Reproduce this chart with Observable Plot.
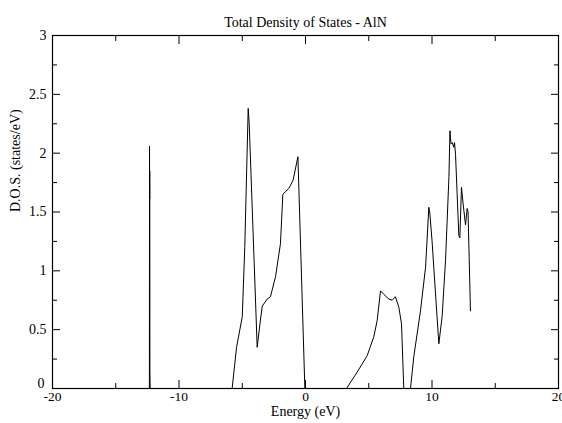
<!DOCTYPE html>
<html>
<head>
<meta charset="utf-8">
<script src="https://cdn.jsdelivr.net/npm/d3@7"></script>
<script src="https://cdn.jsdelivr.net/npm/@observablehq/plot@0.6"></script>
<style>
  html, body { margin: 0; padding: 0; background: #fff; }
  #chart svg { display: block; }
  #chart svg text { font-family: "Liberation Serif", "DejaVu Serif", serif; }
</style>
</head>
<body>
<div id="chart"></div>
<script>
const title = "Total Density of States - AlN";
const xLabel = "Energy (eV)";
const yLabel = "D.O.S. (states/eV)";

const energy = [
  -12.34, -12.33, -12.32, -12.315, -12.31, -12.30, -12.28,
  -5.80, -5.45, -5.00, -4.80, -4.53, -4.45, -3.82, -3.60, -3.42, -3.03, -2.77, -2.37, -1.98,
  -1.79, -1.32, -0.98, -0.60, -0.05,
  3.24, 4.09, 4.88, 5.40, 5.67, 5.93, 6.19, 6.59, 6.85, 7.11, 7.38, 7.59, 7.77,
  8.30, 8.56, 9.09, 9.49, 9.75, 9.82, 10.00, 10.54, 10.80, 11.07, 11.34, 11.42, 11.50,
  11.60, 11.72, 11.78, 11.86, 12.12, 12.20, 12.33, 12.46, 12.65, 12.78, 12.85, 13.04
];
const dos = [
  0, 2.06, 1.61, 1.85, 1.60, 0.14, 0,
  0, 0.35, 0.61, 1.20, 2.38, 2.25, 0.35, 0.55, 0.70, 0.76, 0.78, 0.95, 1.23,
  1.65, 1.70, 1.77, 1.97, 0,
  0, 0.14, 0.28, 0.44, 0.58, 0.83, 0.80, 0.76, 0.75, 0.78, 0.69, 0.55, 0,
  0, 0.27, 0.66, 1.03, 1.54, 1.50, 1.26, 0.38, 0.61, 1.09, 1.80, 2.19, 2.08,
  2.09, 2.05, 2.09, 1.99, 1.30, 1.28, 1.71, 1.57, 1.39, 1.53, 1.50, 0.66
];

const xMajor = [-20, -10, 0, 10, 20];
const xMinor = [-15, -5, 5, 15];
const yMajor = [0, 0.5, 1, 1.5, 2, 2.5, 3];
const yLabelTicks = [0.5, 1, 1.5, 2, 2.5, 3];
const yZeroTick = [0];
const yMinor = [0.25, 0.75, 1.25, 1.75, 2.25, 2.75];

const points = energy.map((e, i) => ({energy: e, dos: dos[i]}));
const font = "Liberation Serif, DejaVu Serif, serif";
const blank = () => "";
const plain = d => String(d);

const chart = Plot.plot({
  width: 562,
  height: 423,
  marginLeft: 52,
  marginRight: 4,
  marginTop: 35,
  marginBottom: 35,
  style: {fontFamily: font, fontSize: "13px", color: "#000", background: "#fff"},
  x: {domain: [-20, 20]},
  y: {domain: [0, 3]},
  marks: [
    Plot.line(points, {x: "energy", y: "dos", stroke: "#000", strokeWidth: 1}),
    Plot.frame({stroke: "#000", strokeWidth: 1.2}),
    // tick labels
    Plot.axisX(xMajor, {anchor: "bottom", tickSize: 0, tickPadding: 3, tickFormat: plain, label: null, fontSize: 13.5, fontFamily: font, fill: "#000"}),
    Plot.axisY(yLabelTicks, {anchor: "left", tickSize: 0, tickPadding: 6, tickFormat: plain, label: null, fontSize: 14, fontFamily: font, fill: "#000"}),
    Plot.axisY(yZeroTick, {anchor: "left", tickSize: 0, tickPadding: 8, dy: -5, tickFormat: plain, label: null, fontSize: 14, fontFamily: font, fill: "#000"}),
    // inward ticks, bottom/top
    Plot.axisX(xMajor, {anchor: "bottom", tickSize: -8, tickFormat: blank, label: null}),
    Plot.axisX(xMinor, {anchor: "bottom", tickSize: -5, tickFormat: blank, label: null}),
    Plot.axisX(xMajor, {anchor: "top", tickSize: -8, tickFormat: blank, label: null}),
    Plot.axisX(xMinor, {anchor: "top", tickSize: -5, tickFormat: blank, label: null}),
    // inward ticks, left/right
    Plot.axisY(yMajor, {anchor: "left", tickSize: -8, tickFormat: blank, label: null}),
    Plot.axisY(yMinor, {anchor: "left", tickSize: -5, tickFormat: blank, label: null}),
    Plot.axisY(yMajor, {anchor: "right", tickSize: -8, tickFormat: blank, label: null}),
    Plot.axisY(yMinor, {anchor: "right", tickSize: -5, tickFormat: blank, label: null}),
    // titles
    Plot.text([title], {text: d => d, frameAnchor: "top", dy: -18, fontSize: 14, fontFamily: font, fill: "#000"}),
    Plot.text([xLabel], {text: d => d, frameAnchor: "bottom", dy: 27, fontSize: 14, fontFamily: font, fill: "#000"}),
    Plot.text([yLabel], {text: d => d, frameAnchor: "left", dx: -37, rotate: -90, fontSize: 14, fontFamily: font, fill: "#000"})
  ]
});
document.getElementById("chart").appendChild(chart);
</script>
</body>
</html>
